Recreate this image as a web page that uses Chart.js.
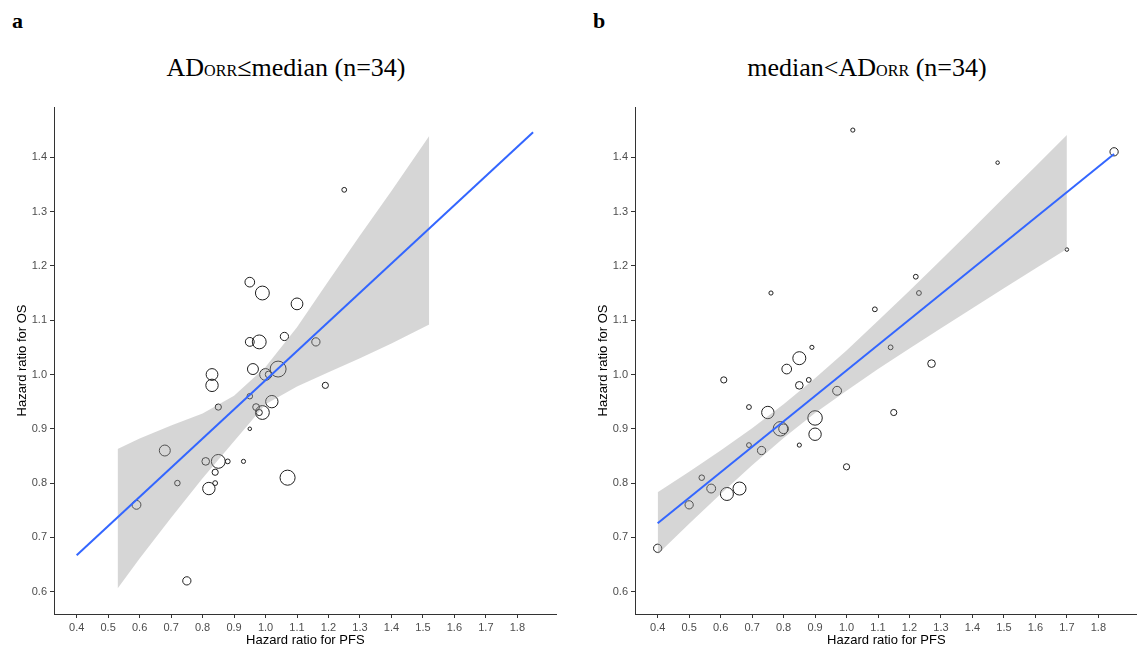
<!DOCTYPE html>
<html>
<head>
<meta charset="utf-8">
<script src="https://cdn.jsdelivr.net/npm/chart.js@4.4.1/dist/chart.umd.min.js"></script>
<style>
    body { margin: 0; width: 1137px; height: 648px; overflow: hidden; background: #fff; position: relative; }
    .panel { position: absolute; top: 0; width: 575px; height: 648px; }
    .tag { position: absolute; top: 10px; font: bold 22px "Liberation Serif", "Times New Roman", serif; line-height: 22px; }
    .title { position: absolute; top: 55px; font: 26px "Liberation Serif", "Times New Roman", serif; line-height: 26px; white-space: nowrap; transform: translateX(-50%); }
    .sc { font-size: 0.62em; }
</style>
</head>
<body>
<div class="tag" style="left:12px">a</div>
<div class="title" style="left:286px">AD<span class="sc">ORR</span>≤median (n=34)</div>
<div class="tag" style="left:593px">b</div>
<div class="title" style="left:867px">median&lt;AD<span class="sc">ORR</span> (n=34)</div>

<div class="panel" style="left:0"><canvas id="chartLow" width="575" height="648"></canvas></div>
<div class="panel" style="left:581px"><canvas id="chartHigh" width="575" height="648"></canvas></div>

<script>
// shared axis ticks
const xTicks = [0.4, 0.5, 0.6, 0.7, 0.8, 0.9, 1.0, 1.1, 1.2, 1.3, 1.4, 1.5, 1.6, 1.7, 1.8];
const yTicks = [0.6, 0.7, 0.8, 0.9, 1.0, 1.1, 1.2, 1.3, 1.4];

// panel a: AD(ORR) <= median, one entry per trial
const lowPfsHr = [0.95, 0.99, 1.10, 1.06, 0.95, 0.98, 1.16, 0.96, 1.00, 1.01, 1.04, 0.83, 0.83, 1.19, 0.95, 0.85, 1.02,
                  0.97, 0.98, 0.99, 0.95, 0.68, 0.85, 0.81, 0.88, 0.93, 0.84, 0.84, 0.72, 0.82, 1.07, 0.59, 0.75, 1.25];
const lowOsHr = [1.17, 1.15, 1.13, 1.07, 1.06, 1.06, 1.06, 1.01, 1.00, 1.00, 1.01, 1.00, 0.98, 0.98, 0.96, 0.94, 0.95,
                 0.94, 0.93, 0.93, 0.90, 0.86, 0.84, 0.84, 0.84, 0.84, 0.82, 0.80, 0.80, 0.79, 0.81, 0.76, 0.62, 1.34];
const lowWeight = [9.8, 20, 14.4, 7.1, 8.2, 20, 7.1, 12.5, 14.4, 4.8, 26.4, 14.4, 16, 4, 3.2, 4, 16,
                   4.8, 4, 20, 1.3, 12.5, 20, 6.1, 2.4, 1.8, 4, 2.4, 3.2, 16, 23.7, 8.2, 7.1, 2.4];
const lowFitPfs = [0.4, 1.85];
const lowFitOs = [0.667, 1.446];
const lowBandPfs = [0.53, 0.6, 0.7, 0.8, 0.9, 1.0, 1.1, 1.2, 1.3, 1.4, 1.52];
const lowBandLower = [0.606, 0.661, 0.736, 0.809, 0.877, 0.945, 0.978, 1.004, 1.030, 1.057, 1.092];
const lowBandUpper = [0.863, 0.882, 0.906, 0.928, 0.961, 1.014, 1.087, 1.172, 1.256, 1.338, 1.439];

// panel b: median < AD(ORR)
const highPfsHr = [0.76, 1.23, 1.09, 0.89, 1.14, 0.85, 0.81, 0.61, 0.88, 0.85, 1.27, 0.97, 0.69, 0.75, 1.15, 0.90, 0.79,
                   0.80, 0.90, 0.69, 0.73, 0.85, 1.00, 0.54, 0.57, 0.62, 0.66, 0.50, 0.40, 1.02, 1.85, 1.48, 1.70, 1.22];
const highOsHr = [1.15, 1.15, 1.12, 1.05, 1.05, 1.03, 1.01, 0.99, 0.99, 0.98, 1.02, 0.97, 0.94, 0.93, 0.93, 0.92, 0.90,
                  0.90, 0.89, 0.87, 0.86, 0.87, 0.83, 0.81, 0.79, 0.78, 0.79, 0.76, 0.68, 1.45, 1.41, 1.39, 1.23, 1.18];
const highWeight = [1.8, 2.4, 2.4, 1.8, 2.4, 17.6, 9.8, 4, 2.4, 6.1, 6.1, 8.2, 2.4, 16, 4, 21.8, 21.8,
                    9.8, 16, 2.4, 7.1, 1.8, 4, 3.2, 8.2, 17.6, 17.6, 7.1, 7.1, 1.8, 7.1, 1.3, 1.3, 2.4];
const highFitPfs = [0.4, 1.85];
const highFitOs = [0.726, 1.406];
const highBandPfs = [0.4, 0.5, 0.6, 0.7, 0.8, 0.9, 1.0, 1.1, 1.2, 1.3, 1.4, 1.5, 1.6, 1.7];
const highBandLower = [0.669, 0.725, 0.780, 0.833, 0.883, 0.929, 0.970, 1.010, 1.048, 1.085, 1.122, 1.159, 1.195, 1.231];
const highBandUpper = [0.783, 0.821, 0.860, 0.901, 0.945, 0.993, 1.044, 1.099, 1.154, 1.211, 1.268, 1.326, 1.383, 1.441];

const SANS = "'Liberation Sans', Arial, sans-serif";

function toPoints(xs, ys) {
    return xs.map((x, i) => ({x: x, y: ys[i]}));
}

// bubble area follows the trial weight
function radiusFor(w) {
    return 1.55 * Math.sqrt(w);
}

function axisStyle(ticks, title, titlePadding) {
    return {
        type: 'linear',
        afterBuildTicks: scale => { scale.ticks = ticks.map(v => ({value: v})); },
        grid: {display: true, drawOnChartArea: false, drawTicks: true, tickLength: 4, tickColor: '#333', tickWidth: 1},
        border: {display: true, color: '#333', width: 1},
        ticks: {
            color: '#4d4d4d',
            font: {family: SANS, size: 11},
            padding: 3,
            autoSkip: false,
            maxRotation: 0,
            callback: v => Number(v).toFixed(1)
        },
        title: {display: true, text: title, color: '#000', font: {family: SANS, size: 13}, padding: titlePadding}
    };
}

function renderPanel(canvasId, pfs, os, weight, fitPfs, fitOs, bandPfs, bandLower, bandUpper) {
    const ctx = document.getElementById(canvasId);
    const xAxis = axisStyle(xTicks, 'Hazard ratio for PFS', {top: 0, bottom: 0});
    xAxis.min = 0.328;
    xAxis.max = 1.925;
    xAxis.afterFit = scale => { scale.height = 34; };
    const yAxis = axisStyle(yTicks, 'Hazard ratio for OS', {top: 15, bottom: 0});
    yAxis.min = 0.559;
    yAxis.max = 1.4925;
    yAxis.afterFit = scale => { scale.width = 54; };

    return new Chart(ctx, {
        type: 'scatter',
        data: {
            datasets: [
                {
                    type: 'line',
                    data: toPoints(fitPfs, fitOs),
                    showLine: true,
                    borderColor: '#3366FF',
                    borderWidth: 2,
                    pointRadius: 0,
                    fill: false,
                    order: 0
                },
                {
                    type: 'line',
                    data: toPoints(bandPfs, bandLower),
                    showLine: true,
                    borderColor: 'rgba(0,0,0,0)',
                    borderWidth: 0,
                    pointRadius: 0,
                    fill: false,
                    order: 1
                },
                {
                    type: 'line',
                    data: toPoints(bandPfs, bandUpper),
                    showLine: true,
                    borderColor: 'rgba(0,0,0,0)',
                    borderWidth: 0,
                    pointRadius: 0,
                    fill: '-1',
                    backgroundColor: 'rgba(153,153,153,0.4)',
                    order: 1
                },
                {
                    data: toPoints(pfs, os),
                    pointRadius: weight.map(radiusFor),
                    pointBackgroundColor: 'rgba(0,0,0,0)',
                    pointBorderColor: '#1f1f1f',
                    pointBorderWidth: 1,
                    order: 2
                }
            ]
        },
        options: {
            responsive: false,
            animation: false,
            devicePixelRatio: 1,
            layout: {autoPadding: false, padding: {left: 0, top: 107, right: 18.3, bottom: 0}},
            plugins: {legend: {display: false}, tooltip: {enabled: false}},
            scales: {x: xAxis, y: yAxis}
        }
    });
}

renderPanel('chartLow', lowPfsHr, lowOsHr, lowWeight, lowFitPfs, lowFitOs, lowBandPfs, lowBandLower, lowBandUpper);
renderPanel('chartHigh', highPfsHr, highOsHr, highWeight, highFitPfs, highFitOs, highBandPfs, highBandLower, highBandUpper);
</script>
</body>
</html>
